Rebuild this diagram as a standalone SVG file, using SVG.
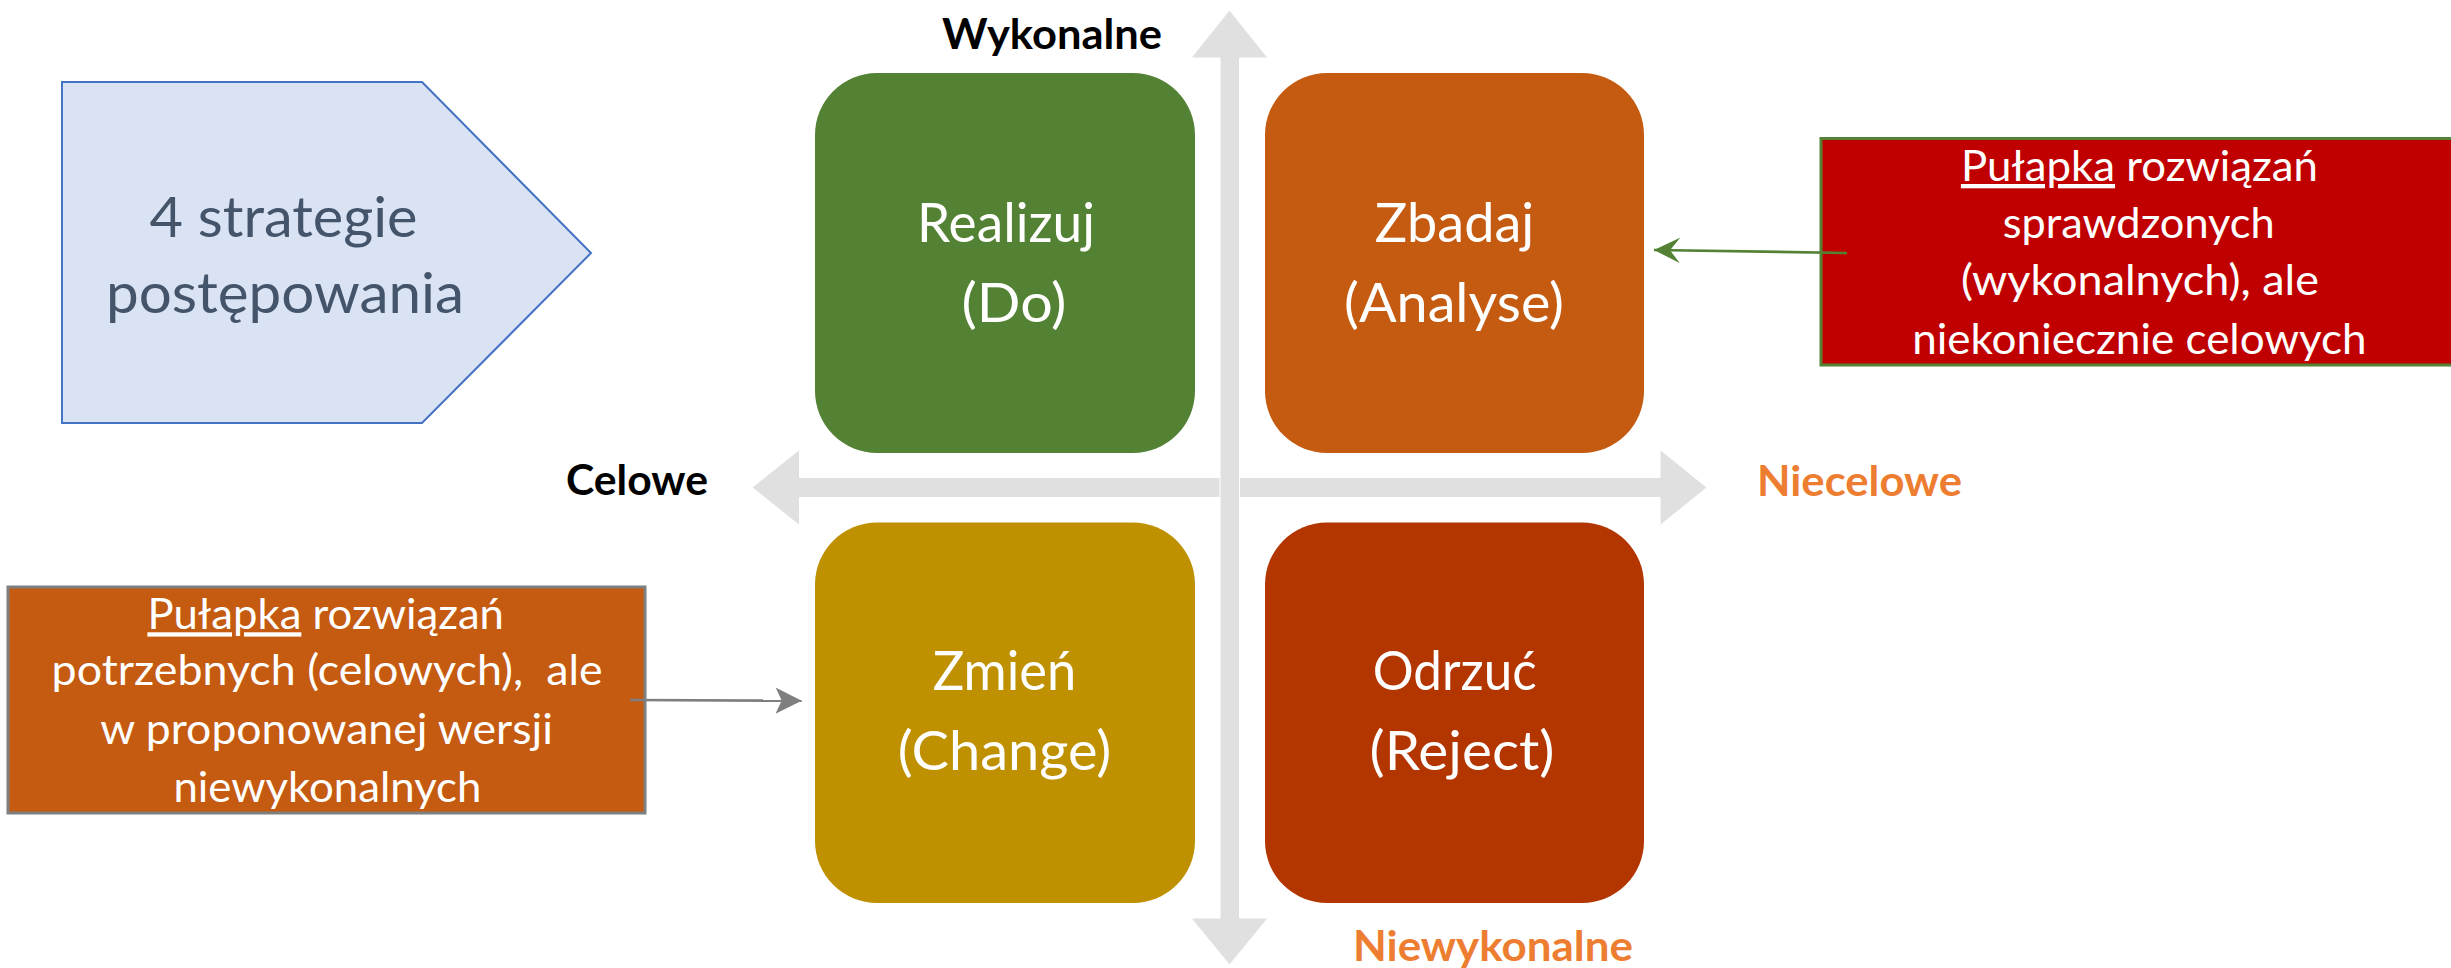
<svg xmlns="http://www.w3.org/2000/svg" width="2451" height="968" viewBox="0 0 2451 968">
  <style>
    text { font-family: Lato, "Open Sans", "Liberation Sans", sans-serif; }
    .quad { font-size: 53.5px; fill: #FFFFFF; text-anchor: middle; }
    .note { font-size: 43px; fill: #FFFFFF; text-anchor: middle; }
    .axisLabel { font-size: 41.5px; font-weight: bold; text-anchor: middle; }
    .dark { fill: #000000; }
    .orange { fill: #ED7D31; }
    .axis { fill: #E0E0E0; stroke: #FFFFFF; stroke-width: 1; }
    .u { text-decoration: underline; }
  </style>
  <defs>
    <marker id="headGreen" markerUnits="userSpaceOnUse" markerWidth="30" markerHeight="30" refX="26" refY="13" orient="auto">
      <path d="M0,0.3 L26,13 L0,25.7 L10,13 Z" fill="#548235"/>
    </marker>
    <marker id="headGrey" markerUnits="userSpaceOnUse" markerWidth="30" markerHeight="30" refX="26" refY="13" orient="auto">
      <path d="M0,0 L26,13 L0,26 L6,13 Z" fill="#7F7F7F"/>
    </marker>
  </defs>

  <!-- title pentagon -->
  <g id="title">
    <polygon points="62,82 422,82 591,253 422,423 62,423" fill="#DAE3F3" stroke="#4472C4" stroke-width="2"/>
    <text x="283.5" y="237" font-size="56" fill="#44546A" text-anchor="middle" textLength="268" lengthAdjust="spacingAndGlyphs">4 strategie</text>
    <text x="285" y="313" font-size="56" fill="#44546A" text-anchor="middle" textLength="358" lengthAdjust="spacingAndGlyphs">postępowania</text>
  </g>

  <!-- axes -->
  <g id="axes">
    <polygon class="axis" points="752,487.5 799.5,449.5 799.5,477.5 1660,477.5 1660,449.5 1707,487.5 1660,525.5 1660,497.5 799.5,497.5 799.5,525.5"/>
    <polygon class="axis" points="1229.5,10 1268,58 1239.5,58 1239.5,918 1268,918 1229.5,965 1191,918 1220,918 1220,58 1191,58"/>
    <text class="axisLabel dark" x="1052" y="49" textLength="220" lengthAdjust="spacingAndGlyphs">Wykonalne</text>
    <text class="axisLabel dark" x="637" y="495" textLength="142" lengthAdjust="spacingAndGlyphs">Celowe</text>
    <text class="axisLabel orange" x="1859.5" y="495.5" textLength="205" lengthAdjust="spacingAndGlyphs">Niecelowe</text>
    <text class="axisLabel orange" x="1493" y="961" textLength="280" lengthAdjust="spacingAndGlyphs">Niewykonalne</text>
  </g>

  <!-- quadrants -->
  <g id="realizuj">
    <rect x="815" y="73" width="380" height="380" rx="62" ry="62" fill="#548235"/>
    <text class="quad" x="1006" y="242" textLength="178" lengthAdjust="spacingAndGlyphs">Realizuj</text>
    <text class="quad" x="1014" y="322" textLength="105" lengthAdjust="spacingAndGlyphs">(Do)</text>
  </g>
  <g id="zbadaj">
    <rect x="1265" y="73" width="379" height="380" rx="62" ry="62" fill="#C55A11"/>
    <text class="quad" x="1454.5" y="242" textLength="159.5" lengthAdjust="spacingAndGlyphs">Zbadaj</text>
    <text class="quad" x="1454" y="322" textLength="220" lengthAdjust="spacingAndGlyphs">(Analyse)</text>
  </g>
  <g id="zmien">
    <rect x="815" y="522.5" width="380" height="380.5" rx="62" ry="62" fill="#BF9000"/>
    <text class="quad" x="1004.5" y="690" textLength="143.5" lengthAdjust="spacingAndGlyphs">Zmień</text>
    <text class="quad" x="1004.5" y="770" textLength="213.5" lengthAdjust="spacingAndGlyphs">(Change)</text>
  </g>
  <g id="odrzuc">
    <rect x="1265" y="522.5" width="379" height="380.5" rx="62" ry="62" fill="#B33500"/>
    <text class="quad" x="1454.7" y="690" textLength="164" lengthAdjust="spacingAndGlyphs">Odrzuć</text>
    <text class="quad" x="1462" y="770" textLength="185" lengthAdjust="spacingAndGlyphs">(Reject)</text>
  </g>

  <!-- trap notes -->
  <g id="note-proven">
    <rect x="1821" y="138.5" width="700" height="226.5" fill="#C00000" stroke="#548235" stroke-width="3"/>
    <text class="note" x="2139.4" y="181" textLength="357" lengthAdjust="spacingAndGlyphs"><tspan class="u">Pułapka</tspan> rozwiązań</text>
    <text class="note" x="2138.7" y="237.5" textLength="272" lengthAdjust="spacingAndGlyphs">sprawdzonych</text>
    <text class="note" x="2139.9" y="295" textLength="358" lengthAdjust="spacingAndGlyphs">(wykonalnych), ale</text>
    <text class="note" x="2139.4" y="354" textLength="454.5" lengthAdjust="spacingAndGlyphs">niekoniecznie celowych</text>
  </g>
  <g id="note-needed">
    <rect x="8" y="587" width="637" height="226" fill="#C55A11" stroke="#7F7F7F" stroke-width="3"/>
    <text class="note" x="325.7" y="629.3" textLength="356.6" lengthAdjust="spacingAndGlyphs"><tspan class="u">Pułapka</tspan> rozwiązań</text>
    <text class="note" x="327.1" y="685" textLength="551" lengthAdjust="spacingAndGlyphs" xml:space="preserve">potrzebnych (celowych),  ale</text>
    <text class="note" x="326.6" y="744" textLength="452.5" lengthAdjust="spacingAndGlyphs">w proponowanej wersji</text>
    <text class="note" x="327.4" y="801.7" textLength="308" lengthAdjust="spacingAndGlyphs">niewykonalnych</text>
  </g>

  <!-- connectors -->
  <g id="connectors" fill="none" stroke-width="2.7">
    <path d="M1847,253 L1654,250" stroke="#548235" marker-end="url(#headGreen)"/>
    <path d="M630,700 L801.7,700.7" stroke="#7F7F7F" marker-end="url(#headGrey)"/>
  </g>
</svg>
